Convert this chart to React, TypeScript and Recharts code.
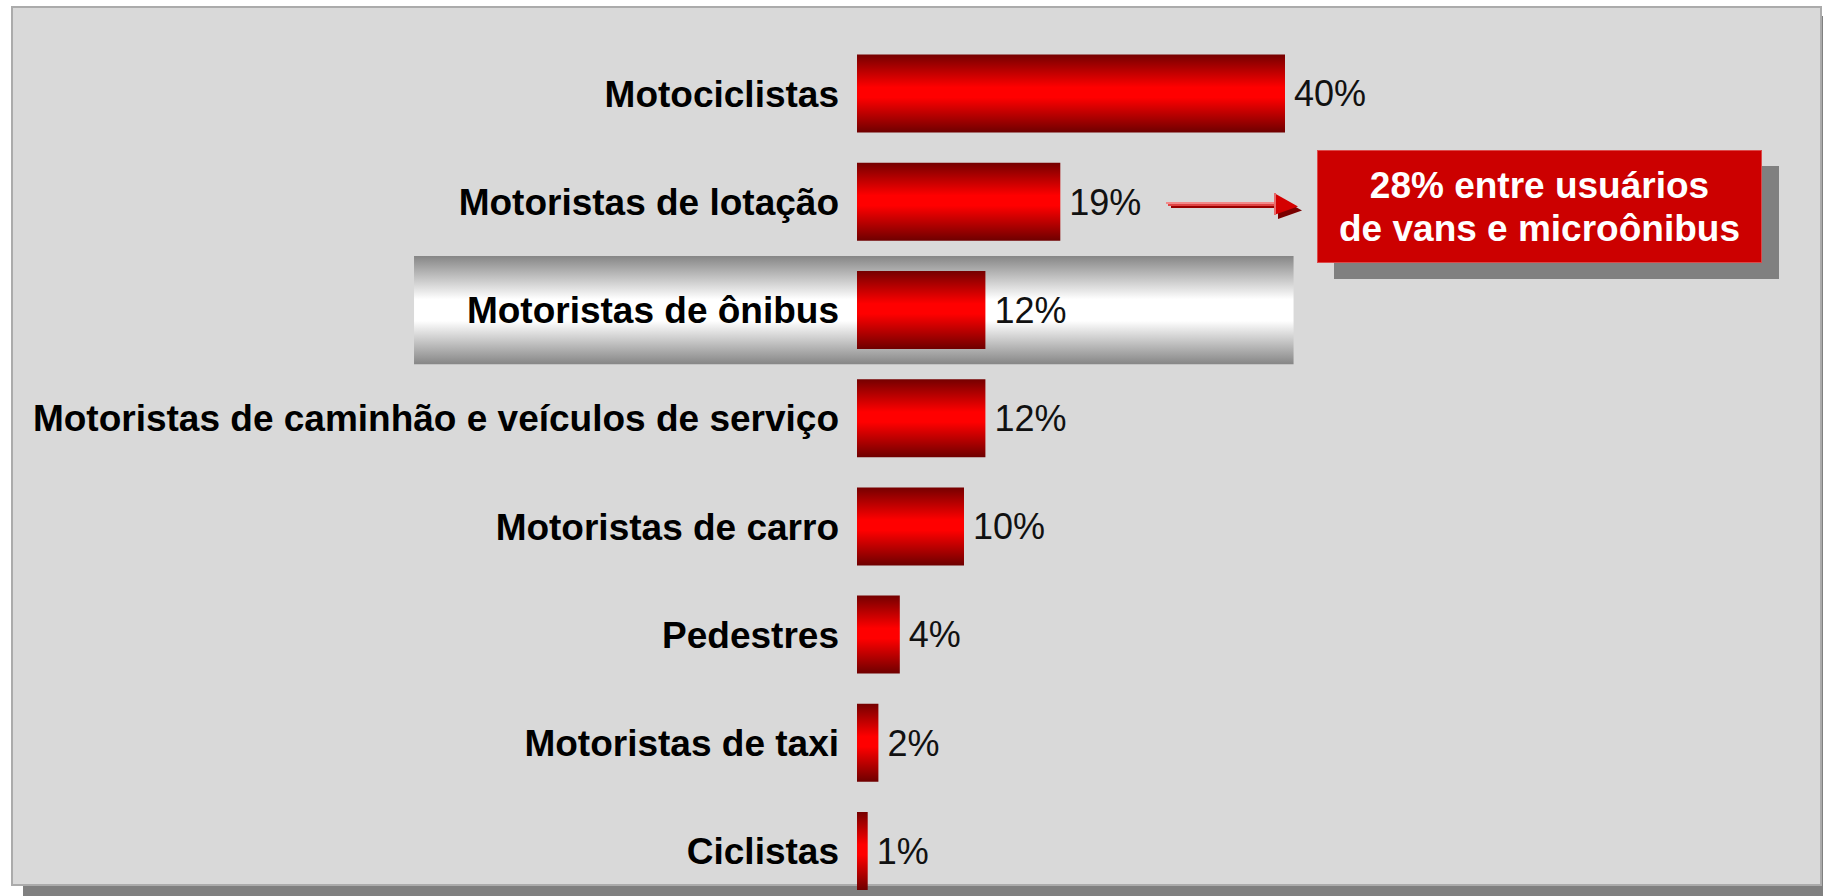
import { Bar, BarChart, LabelList, ReferenceArea, XAxis, YAxis } from "recharts";

const categories = [
  "Motociclistas",
  "Motoristas de lotação",
  "Motoristas de ônibus",
  "Motoristas de caminhão e veículos de serviço",
  "Motoristas de carro",
  "Pedestres",
  "Motoristas de taxi",
  "Ciclistas",
];
const shares = [40, 19, 12, 12, 10, 4, 2, 1];
const highlighted = "Motoristas de ônibus";
const calloutLines = ["28% entre usuários", "de vans e microônibus"];

const data = categories.map((name, i) => ({ name, value: shares[i] }));

const FONT = '"Liberation Sans", Arial, Helvetica, sans-serif';

function Arrow() {
  return (
    <svg
      width={160}
      height={40}
      style={{ position: "absolute", left: 1160, top: 188, overflow: "visible" }}
    >
      <rect x={6} y={14} width={112} height={2} fill="#f28a8a" />
      <rect x={8} y={16} width={110} height={2} fill="#e04545" />
      <rect x={11} y={18} width={107} height={2} fill="#990000" />
      <polygon points="118,9 142,22.5 118,31" fill="#7a0000" />
      <polygon points="114,5 138,18.5 114,27" fill="#d40000" />
      <rect x={114} y={5} width={2} height={22} fill="#e86a6a" />
    </svg>
  );
}

export default function App() {
  return (
    <div
      style={{
        position: "absolute",
        left: 0,
        top: 0,
        width: 1823,
        height: 896,
        overflow: "hidden",
        background: "#ffffff",
        fontFamily: FONT,
      }}
    >
      {/* framed grey panel with drop shadow */}
      <div
        style={{
          position: "absolute",
          left: 11,
          top: 6,
          width: 1811,
          height: 880,
          boxSizing: "border-box",
          background: "#d9d9d9",
          border: "2px solid #ababab",
          boxShadow: "12px 10px 0 #808080",
        }}
      />

      <div style={{ position: "absolute", left: 0, top: 0 }}>
        <BarChart
          width={1823}
          height={920}
          data={data}
          layout="vertical"
          margin={{ top: 39.6, right: 110, bottom: 14.8, left: 0 }}
        >
          <defs>
            <linearGradient id="barGrad" x1="0" y1="0" x2="0" y2="1">
              <stop offset="0" stopColor="#750000" />
              <stop offset="0.42" stopColor="#ff0000" />
              <stop offset="0.55" stopColor="#ff0000" />
              <stop offset="1" stopColor="#6e0000" />
            </linearGradient>
            <linearGradient id="hlGrad" x1="0" y1="0" x2="0" y2="1">
              <stop offset="0" stopColor="#868686" />
              <stop offset="0.4" stopColor="#ffffff" />
              <stop offset="0.6" stopColor="#ffffff" />
              <stop offset="1" stopColor="#868686" />
            </linearGradient>
          </defs>
          <ReferenceArea
            y1={highlighted}
            y2={highlighted}
            x1={-41.4}
            x2={40.8}
            ifOverflow="visible"
            fill="url(#hlGrad)"
            fillOpacity={1}
            stroke="none"
          />
          <XAxis type="number" domain={[0, 80]} hide />
          <YAxis
            type="category"
            dataKey="name"
            width={857}
            axisLine={false}
            tickLine={false}
            tickSize={0}
            tickMargin={18}
            interval={0}
            tick={{ fill: "#000000", fontSize: 37, fontWeight: "bold", fontFamily: FONT }}
          />
          <Bar dataKey="value" fill="url(#barGrad)" barSize={78} isAnimationActive={false}>
            <LabelList
              dataKey="value"
              position="right"
              offset={9}
              formatter={(v: number) => `${v}%`}
              fill="#111111"
              fontSize={36}
              fontFamily={FONT}
            />
          </Bar>
        </BarChart>
      </div>

      <Arrow />

      {/* callout box */}
      <div
        style={{
          position: "absolute",
          left: 1317,
          top: 150,
          width: 445,
          height: 113,
          boxSizing: "border-box",
          background: "#cc0000",
          border: "1px solid #dc4a4a",
          boxShadow: "17px 16px 0 #808080",
          color: "#ffffff",
          fontWeight: "bold",
          fontSize: 37,
          lineHeight: "43px",
          display: "flex",
          flexDirection: "column",
          alignItems: "center",
          justifyContent: "center",
          textAlign: "center",
        }}
      >
        {calloutLines.map((line) => (
          <div key={line}>{line}</div>
        ))}
      </div>
    </div>
  );
}
